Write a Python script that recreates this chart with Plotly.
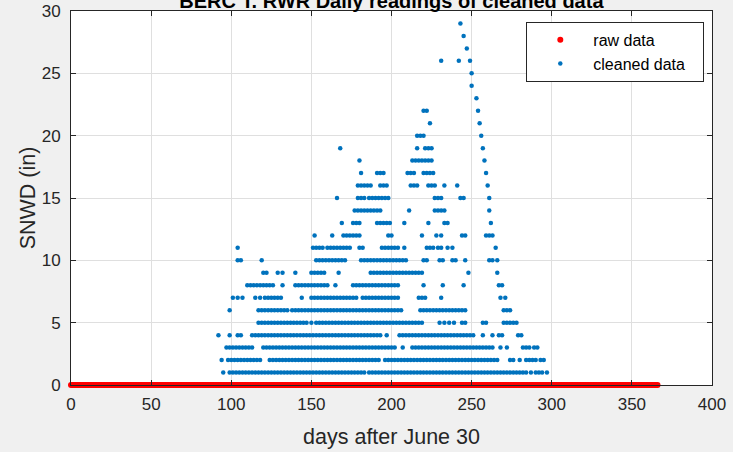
import plotly.graph_objects as go

# ---- data (days after June 30 at which each snow-depth value was recorded) ----
raw_days = list(range(0, 367))
raw_snwd = [0] * len(raw_days)

d01 = [95, 99, 101, 103, 105, 107, 109, 111, 113, 115, 117, 119, 121, 123, 125, 127, 129, 131, 133, 135, 137, 139, 141, 143, 145, 147, 149, 151, 153, 155, 157, 159, 161, 163, 165, 167, 169, 171, 173, 175, 177, 179, 181, 183, 186, 188, 190, 192, 194, 196, 198, 200, 202, 204, 206, 208, 210, 212, 214, 216, 218, 220, 222, 224, 226, 228, 230, 232, 234, 236, 238, 240, 242, 244, 246, 248, 250, 252, 254, 256, 258, 260, 262, 264, 266, 268, 270, 272, 274, 276, 278, 280, 282, 284, 287, 290, 292, 294, 297]
d02 = [94, 98, 100, 102, 104, 106, 108, 110, 112, 114, 116, 118, 124, 126, 128, 130, 132, 134, 136, 138, 140, 142, 144, 146, 148, 150, 152, 154, 156, 158, 160, 162, 164, 166, 168, 170, 172, 174, 176, 178, 180, 182, 184, 186, 188, 190, 192, 196, 198, 200, 202, 204, 206, 208, 210, 212, 214, 216, 218, 220, 222, 224, 226, 228, 230, 232, 234, 236, 238, 240, 242, 244, 246, 248, 250, 252, 254, 256, 258, 260, 262, 264, 266, 274, 276, 280, 284, 286, 288, 290, 293, 295]
d03 = [97, 99, 101, 103, 105, 107, 109, 111, 113, 120, 122, 124, 126, 128, 130, 132, 134, 136, 138, 140, 142, 144, 146, 148, 150, 152, 154, 156, 158, 160, 162, 164, 166, 168, 170, 172, 174, 176, 178, 180, 182, 184, 186, 188, 190, 192, 194, 196, 198, 200, 202, 207, 213, 215, 217, 219, 221, 223, 225, 227, 229, 231, 233, 235, 237, 239, 241, 243, 245, 247, 249, 251, 253, 255, 257, 259, 261, 263, 268, 272, 282, 284, 286, 289, 291]
d04 = [92, 99, 104, 106, 113, 115, 117, 119, 121, 123, 125, 127, 129, 131, 133, 135, 137, 139, 141, 143, 145, 147, 149, 151, 153, 155, 157, 159, 161, 163, 165, 167, 169, 171, 173, 175, 177, 179, 181, 183, 185, 187, 189, 191, 193, 197, 205, 207, 209, 211, 213, 215, 217, 219, 221, 223, 225, 227, 229, 231, 233, 235, 237, 239, 241, 243, 245, 247, 249, 251, 257, 263, 267, 269, 279, 281]
d05 = [117, 119, 121, 123, 125, 127, 129, 131, 133, 135, 137, 139, 141, 143, 145, 147, 150, 153, 155, 157, 159, 161, 163, 165, 167, 169, 171, 173, 175, 177, 179, 181, 183, 185, 187, 189, 191, 193, 195, 197, 199, 201, 203, 205, 207, 209, 211, 213, 215, 217, 219, 230, 233, 236, 239, 244, 246, 257, 259, 270, 272, 274, 276, 278]
d06 = [99, 117, 119, 121, 123, 125, 127, 129, 131, 133, 135, 138, 140, 142, 144, 146, 148, 150, 152, 154, 156, 158, 160, 162, 164, 166, 168, 170, 172, 174, 176, 178, 180, 182, 184, 186, 188, 190, 192, 194, 196, 198, 200, 202, 204, 206, 218, 220, 222, 224, 226, 228, 230, 232, 234, 236, 238, 240, 242, 244, 246, 270, 272, 274]
d07 = [101, 104, 107, 115, 118, 121, 123, 125, 127, 129, 131, 144, 150, 152, 154, 156, 158, 160, 162, 164, 166, 168, 170, 172, 174, 176, 178, 182, 184, 186, 188, 190, 192, 194, 196, 198, 200, 202, 204, 217, 219, 221, 231, 268, 271]
d08 = [110, 112, 114, 116, 118, 120, 122, 124, 126, 132, 140, 142, 144, 146, 148, 150, 152, 154, 156, 158, 160, 165, 176, 178, 180, 182, 184, 186, 188, 190, 192, 194, 196, 198, 200, 202, 204, 220, 232, 245, 267, 269]
d09 = [120, 122, 129, 132, 140, 150, 152, 154, 156, 158, 167, 187, 189, 191, 193, 195, 197, 199, 201, 203, 205, 207, 209, 211, 213, 215, 217, 219, 248, 266]
d10 = [104, 106, 119, 153, 155, 157, 159, 161, 163, 165, 167, 169, 171, 181, 183, 185, 187, 189, 191, 193, 195, 197, 199, 201, 203, 205, 207, 209, 220, 222, 230, 232, 238, 240, 246, 261, 263, 266]
d11 = [104, 151, 153, 155, 157, 160, 162, 164, 166, 168, 170, 172, 174, 180, 182, 194, 196, 198, 200, 202, 204, 208, 222, 224, 226, 229, 231, 235, 238, 265]
d12 = [152, 163, 170, 172, 174, 176, 178, 180, 198, 200, 219, 228, 231, 244, 246, 259, 261, 263]
d13 = [169, 176, 178, 180, 191, 193, 195, 197, 199, 208, 223, 233, 235, 262]
d14 = [177, 179, 181, 183, 185, 187, 189, 191, 193, 211, 227, 229, 231, 233, 261]
d15 = [166, 179, 181, 183, 186, 188, 190, 192, 194, 196, 198, 227, 229, 231, 243, 245, 261]
d16 = [179, 181, 183, 185, 187, 193, 195, 197, 212, 214, 216, 223, 225, 227, 233, 241, 260]
d17 = [181, 191, 193, 195, 210, 212, 214, 220, 222, 224, 226, 259]
d18 = [180, 213, 215, 217, 219, 221, 223, 225, 258]
d19 = [168, 216, 221, 223, 225, 257]
d20 = [216, 218, 220, 256]
d21 = [224, 255]
d22 = [220, 222, 254]
d23 = [253]
d24 = [250]
d25 = [250]
d26 = [231, 242, 249]
d27 = [247]
d28 = [245]
d29 = [243]

levels = [d01, d02, d03, d04, d05, d06, d07, d08, d09, d10, d11, d12, d13, d14, d15,
          d16, d17, d18, d19, d20, d21, d22, d23, d24, d25, d26, d27, d28, d29]

clean_x, clean_y = [], []
for depth, days in enumerate(levels, start=1):
    clean_x.extend(days)
    clean_y.extend([depth] * len(days))

title_text = "BERC T. RWR Daily readings of cleaned data"
x_ticks = [0, 50, 100, 150, 200, 250, 300, 350, 400]
y_ticks = [0, 5, 10, 15, 20, 25, 30]

FONT = "Liberation Sans, Arial, Helvetica, sans-serif"
TXT = "#262626"
NB = "\u00a0"

fig = go.Figure()
fig.add_trace(go.Scatter(
    x=raw_days, y=raw_snwd, mode="markers", name="raw data",
    marker=dict(color="#ff0000", size=6, line=dict(width=0)),
    cliponaxis=False,
))
fig.add_trace(go.Scatter(
    x=clean_x, y=clean_y, mode="markers", name="cleaned data" + NB * 3,
    marker=dict(color="#0072BD", size=4.5, line=dict(width=0)),
    cliponaxis=False,
))

fig.update_layout(
    width=733, height=452,
    margin=dict(l=71, r=21, t=11, b=67, autoexpand=False),
    paper_bgcolor="#f0f0f0",
    plot_bgcolor="#ffffff",
    font=dict(family=FONT, color=TXT),
    title=dict(text=title_text, x=0.534, xanchor="center", y=0.998, yanchor="middle",
               yref="container", automargin=False,
               font=dict(size=20, weight="bold", color="#000000")),
    showlegend=True,
    legend=dict(x=0.988, xanchor="right", y=0.971, yanchor="top",
                bgcolor="#ffffff", bordercolor="#262626", borderwidth=1,
                font=dict(size=16, color="#000000"), itemwidth=56,
                tracegroupgap=0),
)
fig.update_xaxes(
    range=[0, 400], tickvals=x_ticks, ticktext=[str(v) for v in x_ticks],
    automargin=False,
    showgrid=True, gridcolor="#dfdfdf", gridwidth=1, zeroline=False,
    showline=True, linecolor="#262626", linewidth=1, mirror="ticks",
    ticks="inside", ticklen=5, tickcolor="#262626",
    ticklabelstandoff=4,
    tickfont=dict(size=17, color=TXT),
    title=dict(text="days after June 30", font=dict(size=21.5, color=TXT), standoff=15),
)
fig.update_yaxes(
    range=[0, 30], tickvals=y_ticks, ticktext=[str(v) for v in y_ticks],
    automargin=False,
    showgrid=True, gridcolor="#dfdfdf", gridwidth=1, zeroline=False,
    showline=True, linecolor="#262626", linewidth=1, mirror="ticks",
    ticks="inside", ticklen=5, tickcolor="#262626",
    ticklabelstandoff=6,
    tickfont=dict(size=17, color=TXT),
    title=dict(text="SNWD (in)", font=dict(size=21.5, color=TXT), standoff=0),
)

fig.write_html("out.html", config={"displayModeBar": False},
               post_script="document.body.style.margin='0';")
